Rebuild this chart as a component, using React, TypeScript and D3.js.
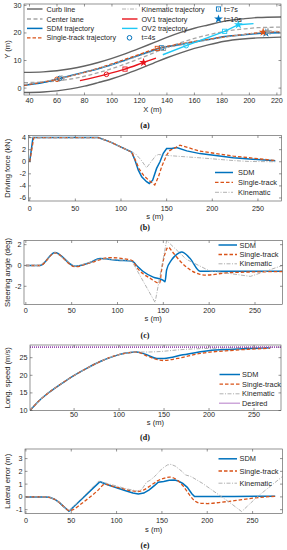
import React from 'react';
import * as d3 from 'd3';

type Pt = [number, number];

// ---------- (a) X-Y trajectories (m)
const xTicksA = [40, 60, 80, 100, 120, 140, 160, 180, 200, 220];
const yTicksA = [0, 10, 20, 30];
const curbUpper: Pt[] = [[36, 5.7], [50, 5.9], [60, 6.3], [70, 7.0], [80, 8.0], [90, 9.3], [100, 10.8], [110, 12.5], [120, 14.4], [130, 16.4], [140, 18.4], [150, 20.2], [160, 21.7], [170, 22.9], [182, 24.3], [195, 25.1], [206, 25.6], [223, 25.8]];
const curbLower: Pt[] = [[36, -1.6], [50, -1.4], [60, -1.0], [70, -0.3], [80, 0.7], [90, 2.0], [100, 3.4], [110, 5.1], [120, 7.0], [130, 9.0], [140, 11.0], [150, 12.8], [160, 14.4], [170, 15.7], [182, 17.0], [195, 17.8], [206, 18.2], [223, 18.5]];
const centerLane: Pt[] = [[36, 2.0], [50, 2.2], [60, 2.6], [70, 3.3], [80, 4.3], [90, 5.6], [100, 7.1], [110, 8.8], [120, 10.7], [130, 12.7], [140, 14.7], [150, 16.5], [160, 18.0], [170, 19.3], [182, 20.6], [195, 21.4], [206, 21.9], [223, 22.1]];
const trajSDM: Pt[] = [[36, 1.0], [50, 2.0], [62, 3.5], [80, 5.8], [92, 7.3], [110, 10.2], [125, 12.8], [136, 14.6], [145, 15.4], [156, 16.4], [170, 17.6], [182, 18.7], [200, 19.5], [212, 20.0], [222, 20.1]];
const trajST: Pt[] = [[36, 1.0], [60, 3.2], [80, 5.7], [100, 8.8], [118, 11.9], [133, 14.4], [145, 15.6], [160, 16.9], [180, 18.4], [195, 19.4], [210, 20.2], [222, 20.4]];
const trajKin: Pt[] = [[36, 1.3], [63, 3.6], [92, 7.4], [110, 10.0], [125, 12.6], [137.5, 14.4], [150, 15.6], [165, 17.0], [182, 18.4], [200, 19.7], [213, 20.4], [222, 20.7]];
const trajOV1: Pt[] = [[76.7, 2.7], [96, 5.0], [109.5, 6.9], [123, 9.3], [132, 10.9]];
const trajOV2: Pt[] = [[137, 12.1], [154, 15.4], [182, 20.6], [192, 23.0], [203, 23.4]];
// markers at t=4s, 7s, 10s (SDM, single-track, kinematic, OV1, OV2)
const at4s: Pt[] = [[62, 3.5], [60, 3.2], [63.5, 3.6], [96, 5.0], [154, 15.4]];
const at7s: Pt[] = [[136, 14.6], [133, 14.4], [137.5, 14.4], [109.5, 6.9], [182, 20.6]];
const at10s: Pt[] = [[212, 20.0], [210, 20.3], [213.5, 20.5], [123, 9.3], [192, 23.0]];

// ---------- (b) driving force (kN)
const sTicks = [0, 50, 100, 150, 200, 250];
const yTicksB = [-6, -4, -2, 0, 2, 4];
const forceSDM: Pt[] = [[0, 0], [3.6, 4], [20, 4], [50, 4], [75, 4], [88, 3.3], [99, 2.5], [111.7, 1.6], [115, 0.4], [119, -1.4], [122.7, -2.5], [128, -3.3], [131, -3.6], [134.7, -3.05], [139, -1.1], [142.7, 0], [146.3, 1.4], [150, 2.2], [155.5, 2.2], [161, 2.35], [172, 1.8], [186.5, 1.35], [223, 0.67], [269, 0.15]];
const forceST: Pt[] = [[0, 0], [4.5, 4], [75, 4], [88, 3.3], [99, 2.5], [111.7, 1.6], [115, 0.5], [120, -1.2], [125, -2.3], [130, -3.0], [137, -3.85], [141, -2.5], [144.6, -0.8], [150, 1.1], [153.7, 1.9], [158, 2.2], [164.6, 2.75], [186.5, 1.75], [223, 0.95], [269, 0.2]];
const forceKin: Pt[] = [[0, 4], [75, 4], [88, 3.3], [99, 2.5], [111.7, 1.6], [116, 1.3], [122, 0.3], [128, -1.0], [133, 0.0], [138, 1.0], [141, 1.2], [150, 1.05], [186.5, 0.65], [223, 0.2], [240, 0.05], [269, 0]];

// ---------- (c) steering angle (deg)
const yTicksC = [-2, 0, 2];
const steerSDM: Pt[] = [[0, 0], [15.5, 0], [31.8, 1.25], [53.7, -0.08], [70, 0.28], [81, 0.68], [100, 0.5], [115.5, 0.42], [122, -0.1], [128, -0.58], [139, -1.12], [150, -1.44], [151.8, -1.57], [153.6, -0.42], [159, 0.53], [165, 1.1], [170, 1.3], [179, 0.7], [190, -0.55], [230, -0.55], [280, -0.55]];
const steerST: Pt[] = [[0, 0], [15.5, 0], [31.8, 1.2], [53.7, -0.12], [70, 0.25], [91.8, 0.75], [115.5, 0.5], [122, -0.3], [128, -0.8], [135.4, -1.22], [146, -1.7], [148, -0.5], [152, 1.2], [155.4, 1.75], [160, 1.3], [168, 0.45], [179, -0.4], [190, -0.85], [197, -0.92], [220, -0.7], [280, -0.58]];
const steerKin: Pt[] = [[0, 0], [15.5, 0], [31.8, 1.25], [53.7, -0.1], [70, 0.3], [81, 0.65], [115.5, 0.45], [141, -3.55], [153.6, 2.4], [175, 0.6], [200, -0.5], [245, -1.05], [280, 0]];

// ---------- (d) longitudinal speed (m/s)
const sTicksD = [50, 100, 150, 200, 250];
const yTicksD = [10, 15, 20, 25];
const speedSDM: Pt[] = [[1, 10], [12, 13.0], [23, 15.3], [37, 17.8], [51, 20.1], [65, 22.1], [79, 23.9], [99, 25.8], [119.6, 26.6], [130, 25.9], [142, 24.8], [150, 24.8], [171, 25.8], [199, 27.0], [227, 27.4], [268, 27.8]];
const speedST: Pt[] = [[1, 10], [12, 13.0], [23, 15.3], [37, 17.8], [51, 20.1], [65, 22.1], [79, 23.9], [99, 25.8], [119.6, 26.6], [132, 25.4], [142, 24.5], [149, 24.2], [165, 24.8], [190, 26.2], [227, 27.1], [268, 27.7]];
const speedKin: Pt[] = [[1, 10], [12, 13.0], [23, 15.3], [37, 17.8], [51, 20.1], [65, 22.1], [79, 23.9], [99, 25.8], [119.6, 26.6], [130, 26.6], [142, 26.7], [170, 27.3], [227, 27.8], [282, 28]];
const speedDesired: Pt[] = [[1, 28], [280, 28]];

// ---------- (e) lateral error (m)
const yTicksE = [-1, 0, 1, 2, 3];
const latSDM: Pt[] = [[0, 0], [22, 0], [27, -0.05], [32, -0.2], [37, -0.45], [42, -0.78], [47.5, -1.12], [81.7, 1.19], [90, 0.95], [100, 0.72], [110, 0.48], [118, 0.3], [124, 0.22], [130, 0.3], [136, 0.55], [142, 0.9], [146, 1.15], [152, 1.2], [158, 1.3], [164, 1.32], [168, 1.25], [173, 1.05], [178, 0.75], [183, 0.25], [186, 0.03], [230, 0.03], [275, 0.06]];
const latST: Pt[] = [[0, 0], [22, 0], [27, -0.05], [32, -0.2], [37, -0.45], [42, -0.78], [48, -1.08], [52, -1.0], [60, -0.6], [70, -0.05], [80, 0.55], [87, 1.0], [95, 0.85], [105, 0.68], [115, 0.5], [123, 0.42], [130, 0.55], [137, 0.85], [145, 1.25], [152, 1.45], [158, 1.55], [163, 1.48], [168, 1.25], [174, 0.8], [180, 0.2], [186, -0.3], [193, -0.5], [200, -0.52], [215, -0.42], [230, -0.3], [250, -0.1], [265, 0.0], [275, 0.05]];
const latKin: Pt[] = [[0, 0], [22, 0], [27, -0.05], [32, -0.2], [37, -0.45], [42, -0.78], [47.5, -1.12], [80, 1.22], [90, 1.05], [100, 0.85], [110, 0.65], [123, 0.45], [128, 0.6], [133, 1.15], [137, 1.3], [142, 1.6], [150, 2.2], [156, 2.5], [160, 2.55], [165, 2.4], [172, 2.0], [176, 1.72], [182, 1.6], [195, 1.05], [210, 0.3], [225, -0.45], [238, -1.15], [255, 0.0], [283, 1.6]];

const FONT = "'Liberation Sans', Arial, Helvetica, sans-serif";
const TXT = '#262626';
const BLUE = '#0072BD';
const ORANGE = '#D95319';
const GRAY = '#a9a9a9';

interface Series { pts: Pt[]; color: string; width: number; dash?: string; curve?: d3.CurveFactory }
interface LegItem { label: string; color: string; width: number; dash?: string }

const sdmS = (pts: Pt[], curve: d3.CurveFactory = d3.curveMonotoneX): Series => ({ pts, color: BLUE, width: 1.5, curve });
const stS = (pts: Pt[], curve: d3.CurveFactory = d3.curveMonotoneX): Series => ({ pts, color: ORANGE, width: 1.3, dash: '3.5,2', curve });
const kinS = (pts: Pt[]): Series => ({ pts, color: GRAY, width: 0.9, dash: '4,1.5,1,1.5' });

const baseLegend: LegItem[] = [
  { label: 'SDM', color: BLUE, width: 1.5 },
  { label: 'Single-track', color: ORANGE, width: 1.3, dash: '3.5,2' },
  { label: 'Kinematic', color: GRAY, width: 0.9, dash: '4,1.5,1,1.5' },
];

interface PanelProps {
  id: string;
  left: number; right: number; top: number; bottom: number;
  xDomain: [number, number]; yDomain: [number, number];
  xTicks: number[]; yTicks: number[];
  xLabel: string; yLabel: string;
  tickY: number; xLabelY: number; tag: string; tagY: number;
  series: Series[];
  extra?: (x: d3.ScaleLinear<number, number>, y: d3.ScaleLinear<number, number>) => React.ReactNode;
  legend?: { items: LegItem[]; rows: number[]; x1: number; x2: number; tx: number };
}

function Panel(p: PanelProps) {
  const x = d3.scaleLinear().domain(p.xDomain).range([p.left, p.right]);
  const y = d3.scaleLinear().domain(p.yDomain).range([p.bottom, p.top]);
  const clip = `clip-${p.id}`;
  const tl = 2.5;
  return (
    <g>
      <defs>
        <clipPath id={clip}>
          <rect x={p.left} y={p.top} width={p.right - p.left} height={p.bottom - p.top} />
        </clipPath>
      </defs>
      <g clipPath={`url(#${clip})`}>
        {p.series.map((s, i) => (
          <path key={i}
            d={d3.line<Pt>().x(d => x(d[0])).y(d => y(d[1])).curve(s.curve ?? d3.curveLinear)(s.pts) ?? ''}
            fill="none" stroke={s.color} strokeWidth={s.width} strokeDasharray={s.dash} />
        ))}
        {p.extra && p.extra(x, y)}
      </g>
      <rect x={p.left} y={p.top} width={p.right - p.left} height={p.bottom - p.top}
        fill="none" stroke="#4d4d4d" strokeWidth={0.6} />
      {p.xTicks.map(t => (
        <g key={'x' + t}>
          <line x1={x(t)} x2={x(t)} y1={p.bottom} y2={p.bottom - tl} stroke="#4d4d4d" strokeWidth={0.6} />
          <line x1={x(t)} x2={x(t)} y1={p.top} y2={p.top + tl} stroke="#4d4d4d" strokeWidth={0.6} />
          <text x={x(t)} y={p.tickY} textAnchor="middle" fontSize={7.2} fill={TXT} fontFamily={FONT}>{t}</text>
        </g>
      ))}
      {p.yTicks.map(t => (
        <g key={'y' + t}>
          <line x1={p.left} x2={p.left + tl} y1={y(t)} y2={y(t)} stroke="#4d4d4d" strokeWidth={0.6} />
          <line x1={p.right} x2={p.right - tl} y1={y(t)} y2={y(t)} stroke="#4d4d4d" strokeWidth={0.6} />
          <text x={p.left - 2.5} y={y(t) + 2.5} textAnchor="end" fontSize={7.2} fill={TXT} fontFamily={FONT}>{t}</text>
        </g>
      ))}
      <text x={(p.left + p.right) / 2} y={p.xLabelY} textAnchor="middle" fontSize={7.6} fill={TXT} fontFamily={FONT}>{p.xLabel}</text>
      <text transform={`translate(9.5,${(p.top + p.bottom) / 2}) rotate(-90)`} textAnchor="middle"
        fontSize={7.6} fill={TXT} fontFamily={FONT}>{p.yLabel}</text>
      <text x={145} y={p.tagY} textAnchor="middle" fontSize={8} fontWeight="bold" fill="#111"
        fontFamily="'Liberation Serif', 'Times New Roman', serif">{p.tag}</text>
      {p.legend && p.legend.items.map((it, i) => (
        <g key={it.label}>
          <line x1={p.legend!.x1} x2={p.legend!.x2} y1={p.legend!.rows[i]} y2={p.legend!.rows[i]}
            stroke={it.color} strokeWidth={it.width} strokeDasharray={it.dash} />
          <text x={p.legend!.tx} y={p.legend!.rows[i] + 2.6} fontSize={7.4} fill={TXT} fontFamily={FONT}>{it.label}</text>
        </g>
      ))}
    </g>
  );
}

const markerColors = [BLUE, ORANGE, '#9c9c9c', '#e8141c', '#1ec8f5'];
const starPath = d3.symbol(d3.symbolStar, 24)() ?? '';

function Marker({ kind, cx, cy, color }: { kind: 'o' | 's' | 'p'; cx: number; cy: number; color: string }) {
  if (kind === 'o') return <circle cx={cx} cy={cy} r={2.3} fill="none" stroke={color} strokeWidth={1} />;
  if (kind === 's') return (
    <g>
      <rect x={cx - 2.1} y={cy - 2.1} width={4.2} height={4.2} fill="none" stroke={color} strokeWidth={0.9} />
      <rect x={cx - 0.5} y={cy - 0.5} width={1} height={1} fill={color} />
    </g>
  );
  return <path d={starPath} transform={`translate(${cx},${cy})`} fill={color} />;
}

export default function App() {
  const legendA = [
    { x: 27, tx: 46.5, label: 'Curb line', color: '#636363', width: 1.4, row: 0 },
    { x: 27, tx: 46.5, label: 'Center lane', color: '#a6a6a6', width: 1.3, dash: '4,2.5', row: 1 },
    { x: 27, tx: 46.5, label: 'SDM trajectory', color: BLUE, width: 1.5, row: 2 },
    { x: 27, tx: 46.5, label: 'Single-track trajectory', color: ORANGE, width: 1.3, dash: '3.5,2', row: 3 },
    { x: 122, tx: 141.5, label: 'Kinematic trajectory', color: GRAY, width: 0.9, dash: '4,1.5,1,1.5', row: 0 },
    { x: 122, tx: 141.5, label: 'OV1 trajectory', color: '#e8141c', width: 1.4, row: 1 },
    { x: 122, tx: 141.5, label: 'OV2 trajectory', color: '#1ec8f5', width: 1.4, row: 2 },
  ];
  const rowsA = [9, 19, 28.4, 37.8];

  return (
    <svg width={287} height={550} style={{ position: 'absolute', left: 0, top: 0, background: '#fff' }}>
      <rect width={287} height={550} fill="#fff" />
      <Panel id="a" left={24} right={281} top={4} bottom={95}
        xDomain={[36, 223]} yDomain={[-2.5, 30.5]} xTicks={xTicksA} yTicks={yTicksA}
        xLabel="X (m)" yLabel="Y (m)" tickY={103} xLabelY={111.5} tag="(a)" tagY={127.5}
        series={[
          { pts: curbUpper, color: '#636363', width: 1.4, curve: d3.curveMonotoneX },
          { pts: curbLower, color: '#636363', width: 1.4, curve: d3.curveMonotoneX },
          { pts: centerLane, color: '#a6a6a6', width: 1.3, dash: '4,2.5', curve: d3.curveMonotoneX },
          sdmS(trajSDM),
          stS(trajST),
          { ...kinS(trajKin), curve: d3.curveMonotoneX },
          { pts: trajOV1, color: '#e8141c', width: 1.4, curve: d3.curveMonotoneX },
          { pts: trajOV2, color: '#1ec8f5', width: 1.4 },
        ]}
        extra={(x, y) => (
          <g>
            {at4s.map((m, i) => <Marker key={'o' + i} kind="o" cx={x(m[0])} cy={y(m[1])} color={markerColors[i]} />)}
            {at7s.map((m, i) => <Marker key={'s' + i} kind="s" cx={x(m[0])} cy={y(m[1])} color={markerColors[i]} />)}
            {at10s.map((m, i) => <Marker key={'p' + i} kind="p" cx={x(m[0])} cy={y(m[1])} color={markerColors[i]} />)}
          </g>
        )}
      />
      {legendA.map(l => (
        <g key={l.label}>
          <line x1={l.x} x2={l.x + 15.5} y1={rowsA[l.row]} y2={rowsA[l.row]} stroke={l.color} strokeWidth={l.width} strokeDasharray={l.dash} />
          <text x={l.tx} y={rowsA[l.row] + 2.5} fontSize={7.2} fill={TXT} fontFamily={FONT}>{l.label}</text>
        </g>
      ))}
      <Marker kind="o" cx={129.5} cy={rowsA[3]} color={BLUE} />
      <text x={141.5} y={rowsA[3] + 2.5} fontSize={7.2} fill={TXT} fontFamily={FONT}>t=4s</text>
      <Marker kind="s" cx={218.5} cy={rowsA[0]} color={BLUE} />
      <text x={224} y={rowsA[0] + 2.5} fontSize={7.2} fill={TXT} fontFamily={FONT}>t=7s</text>
      <Marker kind="p" cx={218.5} cy={rowsA[1]} color={BLUE} />
      <text x={224} y={rowsA[1] + 2.5} fontSize={7.2} fill={TXT} fontFamily={FONT}>t=10s</text>

      <Panel id="b" left={28.5} right={281.5} top={135.5} bottom={201}
        xDomain={[-1.3, 275.8]} yDomain={[-6.5, 4.35]} xTicks={sTicks} yTicks={yTicksB}
        xLabel="s (m)" yLabel="Driving force (kN)" tickY={210.5} xLabelY={219} tag="(b)" tagY={229.5}
        series={[sdmS(forceSDM, d3.curveLinear), stS(forceST, d3.curveLinear), kinS(forceKin)]}
        legend={{ items: baseLegend, rows: [172.5, 182.4, 192.3], x1: 215, x2: 233, tx: 238 }}
      />

      <Panel id="c" left={24} right={282.5} top={240.5} bottom={304.5}
        xDomain={[-2, 280]} yDomain={[-3.75, 2.4]} xTicks={sTicks} yTicks={yTicksC}
        xLabel="s (m)" yLabel="Steering angle (deg)" tickY={313} xLabelY={321} tag="(c)" tagY={338}
        series={[sdmS(steerSDM), stS(steerST), kinS(steerKin)]}
        legend={{ items: baseLegend, rows: [245, 254.5, 263.8], x1: 218.5, x2: 237, tx: 239.5 }}
      />

      <Panel id="d" left={30} right={281} top={345} bottom={410.5}
        xDomain={[1, 280]} yDomain={[10, 28.6]} xTicks={sTicksD} yTicks={yTicksD}
        xLabel="s (m)" yLabel="Long. speed (m/s)" tickY={416.8} xLabelY={425} tag="(d)" tagY={440}
        series={[
          sdmS(speedSDM), stS(speedST), { ...kinS(speedKin), curve: d3.curveMonotoneX },
          { pts: speedDesired, color: '#9b4fb4', width: 1.6, dash: '1,1' },
        ]}
        legend={{
          items: [...baseLegend, { label: 'Desired', color: '#9b4fb4', width: 1.6, dash: '1,1' }],
          rows: [374.5, 384.2, 393.8, 403.3], x1: 219.5, x2: 240, tx: 242,
        }}
      />

      <Panel id="e" left={25} right={282.5} top={449} bottom={513.5}
        xDomain={[-1, 283]} yDomain={[-1.3, 3.75]} xTicks={sTicks} yTicks={yTicksE}
        xLabel="s (m)" yLabel="Lateral error (m)" tickY={522.5} xLabelY={531.5} tag="(e)" tagY={548}
        series={[sdmS(latSDM, d3.curveLinear), stS(latST), kinS(latKin)]}
        legend={{ items: baseLegend, rows: [458.8, 471, 483.2], x1: 218.5, x2: 237, tx: 239.5 }}
      />
    </svg>
  );
}
